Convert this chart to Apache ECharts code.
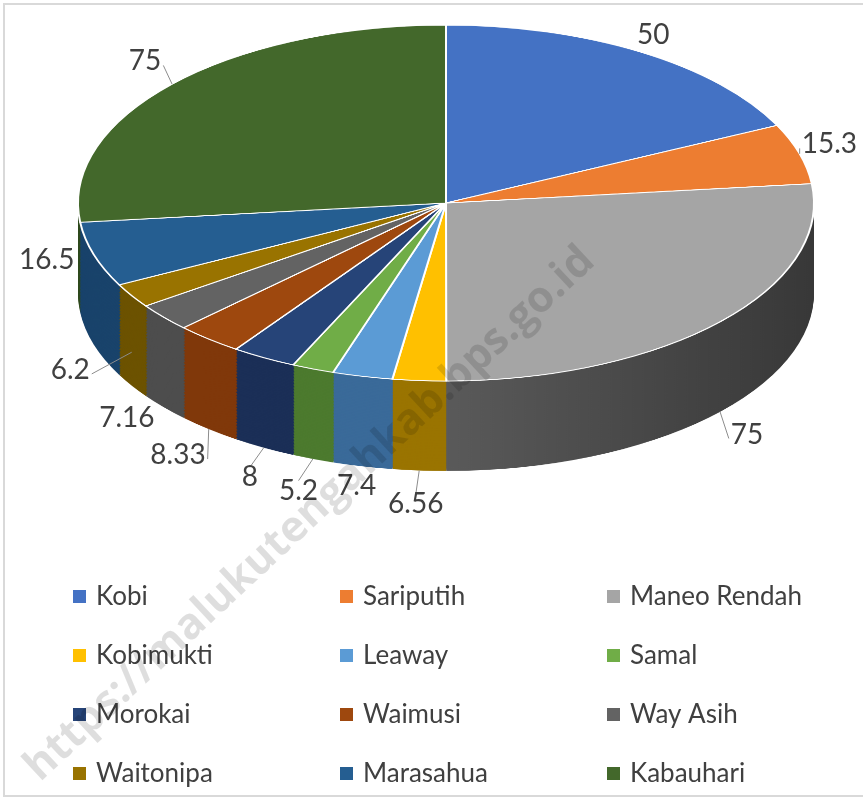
<!DOCTYPE html>
<html>
<head>
<meta charset="utf-8">
<title>Pie 3D</title>
<script src="https://cdn.jsdelivr.net/npm/echarts@6/dist/echarts.min.js"></script>
<style>
  html, body { margin: 0; padding: 0; background: #ffffff; }
  #wrap { position: relative; width: 863px; height: 800px; overflow: hidden; }
  #pie3d { position: absolute; left: 0; top: 0; width: 863px; height: 978px;
           transform: scaleY(0.4837); transform-origin: 0 0; }
  #labels { position: absolute; left: 0; top: 0; width: 863px; height: 800px; }
</style>
</head>
<body>
<div id="wrap">
  <div id="pie3d"></div>
  <div id="labels"></div>
</div>
<script>
// data
var names = ['Kobi', 'Sariputih', 'Maneo Rendah', 'Kobimukti', 'Leaway', 'Samal',
             'Morokai', 'Waimusi', 'Way Asih', 'Waitonipa', 'Marasahua', 'Kabauhari'];
var values = [50, 15.3, 75, 6.56, 7.4, 5.2, 8, 8.33, 7.16, 6.2, 16.5, 75];

// colours (top face / side)
var colors = ['#4472C4', '#ED7D31', '#A5A5A5', '#FFC000', '#5B9BD5', '#70AD47',
              '#264478', '#9E480E', '#636363', '#997300', '#255E91', '#43682B'];
var sideColors = ['#2e5395', '#b25e22', '#474747', '#9a7400', '#3a6a99', '#4c7a2e',
                  '#1b2f57', '#80380a', '#4d4d4d', '#6c5200', '#19436b', '#2f4a1e'];
var plainLabels = ['Kobi', 'Leaway', 'Way Asih', 'Marasahua'];   // no leader line

var FONT = 'Lato';
var K = 0.4837;          // vertical squash of the pie
var CX = 446, CY = 203;  // screen centre of the top face
var RX = 368, RY = RX * K;
var DEPTH = 90;          // screen px
var LAYERS = 60;

// half width of the 3d body at screen height y
function halfWidth(y) {
    var d;
    if (y >= CY && y <= CY + DEPTH) return RX;
    d = y < CY ? (y - CY) / RY : (y - CY - DEPTH) / RY;
    return d * d >= 1 ? 0 : RX * Math.sqrt(1 - d * d);
}

// ---- 3d body: stacked pies in a squashed container
var myChart1 = echarts.init(document.getElementById('pie3d'));
var cyA = CY / K, depthA = DEPTH / K;
var series1 = [];
for (var l = 0; l < LAYERS; l++) {
    var off = depthA * (1 - l / LAYERS);
    series1.push({
        type: 'pie',
        center: [CX, cyA + off],
        radius: RX,
        startAngle: 90,
        silent: true,
        animation: false,
        label: { show: false },
        labelLine: { show: false },
        itemStyle: { borderWidth: 0 },
        data: names.map(function (n, i) {
            var c = sideColors[i];
            if (n === 'Maneo Rendah') {
                c = new echarts.graphic.LinearGradient(0, 0, 1, 0, [
                    { offset: 0, color: '#5a5a5a' }, { offset: 1, color: '#383838' }]);
            }
            return { name: n, value: values[i], itemStyle: { color: c } };
        })
    });
}
series1.push({
    type: 'pie',
    center: [CX, cyA],
    radius: RX,
    startAngle: 90,
    silent: true,
    animation: false,
    label: { show: false },
    labelLine: { show: false },
    itemStyle: { borderColor: '#ffffff', borderWidth: 2 },
    data: names.map(function (n, i) {
        return { name: n, value: values[i], itemStyle: { color: colors[i] } };
    })
});
myChart1.setOption({ animation: false, series: series1 });

// ---- labels, legend, frame
var myChart2 = echarts.init(document.getElementById('labels'));
var option2 = {
    animation: false,
    legend: {
        left: 68,
        top: 576,
        width: 800,
        icon: 'rect',
        itemWidth: 13,
        itemHeight: 13,
        itemGap: 28,
        selectedMode: false,
        itemStyle: { borderWidth: 0 },
        textStyle: { fontFamily: FONT, fontSize: 26, color: '#404040', width: 216,
                     lineHeight: 31, padding: [0, 0, 0, 5] },
        data: names.map(function (n, i) {
            return { name: n, itemStyle: { color: colors[i], borderWidth: 0 } };
        })
    },
    graphic: [
        { type: 'rect', z: 100, shape: { x: 4, y: 4, width: 870, height: 792 },
          style: { fill: 'none', stroke: '#d9d9d9', lineWidth: 2 } },
        { type: 'text', z: 100, x: 310, y: 514, rotation: 43 * Math.PI / 180,
          style: { text: 'https://malukutengahkab.bps.go.id', font: 'bold 43px "Open Sans"',
                   fill: 'rgba(0,0,0,0.13)', align: 'center', verticalAlign: 'middle' } }
    ],
    series: [{
        type: 'pie',
        center: [CX, CY],
        radius: 100,
        startAngle: 90,
        silent: true,
        avoidLabelOverlap: false,
        itemStyle: { color: 'rgba(0,0,0,0)', borderWidth: 0 },
        label: { show: true, position: 'outside', formatter: '{c}',
                 fontFamily: FONT, fontSize: 28, color: '#404040' },
        labelLine: { show: true, length: 10, length2: 10, lineStyle: { color: '#8c8c8c', width: 1 } },
        labelLayout: function (p) {
            var pts = p.labelLinePoints;
            var dx = pts[0][0] - CX, dy = pts[0][1] - CY;
            var len = Math.sqrt(dx * dx + dy * dy);
            var sx = dx / len, sy = dy / len;
            var t = Math.min(1, Math.max(0, (sy - 0.3) / 0.35));
            var ex = CX + RX * sx, ey = CY + RY * sy + DEPTH * t;
            var plain = plainLabels.indexOf(names[p.dataIndex]) >= 0;
            var g = plain ? 6 : 20;
            var w = p.labelRect.width, h = p.labelRect.height;
            var lx = ex + sx * (w / 2 + g), ly = ey + sy * (h / 2 + g);
            // keep the label clear of the body's outline
            var hw = Math.max(halfWidth(ly - h / 2), halfWidth(ly), halfWidth(ly + h / 2));
            if (sx < -0.3) lx = Math.min(lx, CX - hw - g * 0.6 - w / 2);
            if (sx > 0.3) lx = Math.max(lx, CX + hw + g * 0.6 + w / 2);
            // keep it inside the view
            lx = Math.min(Math.max(lx, 8 + w / 2), 857 - w / 2);
            var end;
            if (Math.abs(sy) > 0.85) end = [lx, ly - (sy > 0 ? 1 : -1) * (h / 2 - 4)];
            else end = [lx - (sx > 0 ? 1 : -1) * (w / 2 + 2), ly + 4];
            var line = plain ? [[ex, ey], [ex, ey]] : [[ex, ey], end];
            return { x: lx, y: ly, align: 'center', verticalAlign: 'middle', labelLinePoints: line };
        },
        data: names.map(function (n, i) { return { name: n, value: values[i] }; })
    }]
};
myChart2.setOption(option2);
</script>
</body>
</html>
